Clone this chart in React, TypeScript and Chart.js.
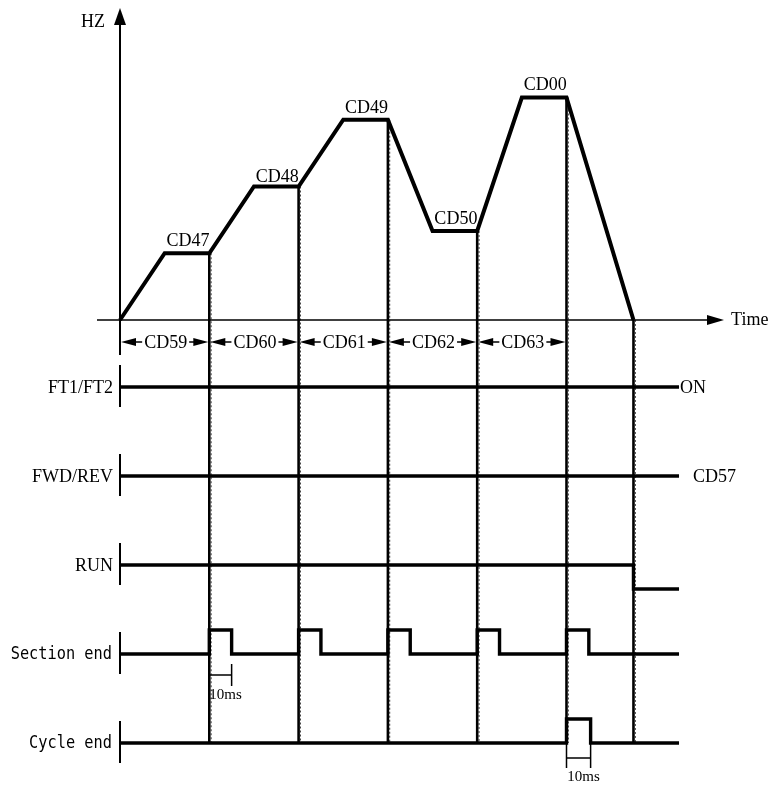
import React, { useEffect, useRef } from 'react';
import { Chart, registerables } from 'chart.js';

Chart.register(...registerables);

// ---- data ----
const profileTime = [0, 0.5, 1, 1.5, 2, 2.5, 3, 3.5, 4, 4.5, 5, 5.75];
const profileHz = [0, 15, 15, 30, 30, 45, 45, 20, 20, 50, 50, 0];
const plateauLabels = ['CD47', 'CD48', 'CD49', 'CD50', 'CD00'];
const segmentLabels = ['CD59', 'CD60', 'CD61', 'CD62', 'CD63'];
const segmentBounds = [0, 1, 2, 3, 4, 5];
const stopTime = 5.75;
const endTime = 6.26;

const signalNames = ['FT1/FT2', 'FWD/REV', 'RUN', 'Section end', 'Cycle end'];
const signalEndLabels = ['ON', 'CD57', '', '', ''];
const signalRest = [1, 1, 1, 0, 0];
const ftTimes = [0, endTime];
const ftLevels = [1, 1];
const fwdTimes = [0, endTime];
const fwdLevels = [1, 1];
const runTimes = [0, stopTime, endTime];
const runLevels = [1, 0, 0];
const sectionTimes = [0, 1, 1.25, 2, 2.25, 3, 3.25, 4, 4.25, 5, 5.25, endTime];
const sectionLevels = [0, 1, 0, 1, 0, 1, 0, 1, 0, 1, 0, 0];
const cycleTimes = [0, 5, 5.27, endTime];
const cycleLevels = [0, 1, 0, 0];
const pulseLabel = '10ms';

const SERIF = '"Liberation Serif", "Times New Roman", serif';
const MONO = '"DejaVu Sans Mono", monospace';
const PULSE = 0.27;

export default function App() {
  const ref = useRef<HTMLCanvasElement | null>(null);

  useEffect(() => {
    if (!ref.current) return;
    const sigTimes = [ftTimes, fwdTimes, runTimes, sectionTimes, cycleTimes];
    const sigLevels = [ftLevels, fwdLevels, runLevels, sectionLevels, cycleLevels];

    const signalSets = sigTimes.map((times, row) => ({
      label: signalNames[row],
      data: times.map((t, k) => ({ x: t, y: -row + (sigLevels[row][k] - signalRest[row]) * PULSE })),
      yAxisID: 'sig',
      borderColor: '#000',
      borderWidth: 3.4,
      borderJoinStyle: 'miter',
      pointRadius: 0,
      stepped: true as const,
      fill: false,
      clip: false as const,
    }));

    const hzAt = (t: number) => {
      let v = 0;
      profileTime.forEach((pt, i) => {
        if (pt === t) v = profileHz[i];
      });
      return v;
    };

    const decor = {
      id: 'decor',
      beforeDatasetsDraw(chart: any) {
        const ctx = chart.ctx;
        const X = (v: number) => chart.scales.x.getPixelForValue(v);
        const Y = (v: number) => chart.scales.y.getPixelForValue(v);
        const S = (v: number) => chart.scales.sig.getPixelForValue(v);
        ctx.save();
        ctx.strokeStyle = '#000';
        const bounds = [...segmentBounds.slice(1), stopTime];
        bounds.forEach((t) => {
          const x = X(t);
          ctx.lineWidth = 2.6;
          ctx.setLineDash([]);
          ctx.beginPath();
          ctx.moveTo(x, Y(hzAt(t)));
          ctx.lineTo(x, S(-4));
          ctx.stroke();
          ctx.lineWidth = 1;
          ctx.strokeStyle = '#333';
          ctx.setLineDash([2, 2]);
          ctx.beginPath();
          ctx.moveTo(x + 1.8, Y(hzAt(t)));
          ctx.lineTo(x + 1.8, S(-4));
          ctx.stroke();
          ctx.strokeStyle = '#000';
          ctx.setLineDash([]);
        });
        ctx.restore();
      },
      afterDatasetsDraw(chart: any) {
        const ctx = chart.ctx;
        const X = (v: number) => chart.scales.x.getPixelForValue(v);
        const Y = (v: number) => chart.scales.y.getPixelForValue(v);
        const S = (v: number) => chart.scales.sig.getPixelForValue(v);
        ctx.save();
        ctx.strokeStyle = '#000';
        ctx.fillStyle = '#000';

        const x0 = X(0);
        const y0 = Y(0);
        // y axis
        ctx.lineWidth = 2;
        ctx.beginPath();
        ctx.moveTo(x0, 22);
        ctx.lineTo(x0, y0 + 35);
        ctx.stroke();
        ctx.beginPath();
        ctx.moveTo(x0, 8);
        ctx.lineTo(x0 - 6, 25);
        ctx.lineTo(x0 + 6, 25);
        ctx.closePath();
        ctx.fill();
        // x axis
        const xTip = X(6.764);
        ctx.lineWidth = 1.6;
        ctx.beginPath();
        ctx.moveTo(x0 - 23, y0);
        ctx.lineTo(xTip - 14, y0);
        ctx.stroke();
        ctx.beginPath();
        ctx.moveTo(xTip, y0);
        ctx.lineTo(xTip - 17, y0 - 5);
        ctx.lineTo(xTip - 17, y0 + 5);
        ctx.closePath();
        ctx.fill();

        ctx.font = '18px ' + SERIF;
        ctx.textBaseline = 'middle';
        ctx.textAlign = 'left';
        ctx.fillText('Time', xTip + 7, y0);
        ctx.textAlign = 'right';
        ctx.fillText('HZ', x0 - 15, 22);

        // plateau labels
        ctx.textAlign = 'center';
        ctx.textBaseline = 'alphabetic';
        plateauLabels.forEach((lab, i) => {
          const a = profileTime[1 + 2 * i];
          const b = profileTime[2 + 2 * i];
          const v = profileHz[1 + 2 * i];
          const off = i === 1 ? 4 : 7;
          ctx.fillText(lab, (X(a) + X(b)) / 2 + 1, Y(v) - off);
        });

        // segment duration arrows
        const ry = y0 + 22;
        ctx.textBaseline = 'middle';
        segmentLabels.forEach((lab, i) => {
          const xa = X(segmentBounds[i]) + 1;
          const xb = X(segmentBounds[i + 1]) - 1;
          const cx = (xa + xb) / 2 + 1;
          const tw = ctx.measureText(lab).width;
          ctx.fillText(lab, cx, ry + 1);
          ctx.lineWidth = 1.5;
          ctx.beginPath();
          ctx.moveTo(xa + 10, ry);
          ctx.lineTo(cx - tw / 2 - 2, ry);
          ctx.moveTo(cx + tw / 2 + 2, ry);
          ctx.lineTo(xb - 10, ry);
          ctx.stroke();
          ctx.beginPath();
          ctx.moveTo(xa, ry);
          ctx.lineTo(xa + 15, ry - 4);
          ctx.lineTo(xa + 15, ry + 4);
          ctx.closePath();
          ctx.fill();
          ctx.beginPath();
          ctx.moveTo(xb, ry);
          ctx.lineTo(xb - 15, ry - 4);
          ctx.lineTo(xb - 15, ry + 4);
          ctx.closePath();
          ctx.fill();
        });

        // signal rows: start ticks, names, end labels
        signalNames.forEach((name, row) => {
          const y = S(-row);
          ctx.lineWidth = 2;
          ctx.beginPath();
          ctx.moveTo(x0, y - 22);
          ctx.lineTo(x0, y + 20);
          ctx.stroke();
          ctx.textBaseline = 'middle';
          if (row < 3) {
            ctx.font = '18px ' + SERIF;
            ctx.textAlign = 'right';
            ctx.fillText(name, x0 - 7, y + 1);
          } else {
            ctx.save();
            ctx.font = '17px ' + MONO;
            ctx.textAlign = 'right';
            ctx.translate(x0 - 8, y);
            ctx.scale(0.9, 1.05);
            ctx.fillText(name, 0, 0);
            ctx.restore();
          }
          if (signalEndLabels[row]) {
            ctx.font = '18px ' + SERIF;
            ctx.textAlign = 'left';
            const xe = X(endTime);
            ctx.fillText(signalEndLabels[row], xe + (row === 0 ? 1 : 14), y + 1);
          }
        });

        // 10ms markers
        ctx.lineWidth = 1.5;
        ctx.font = '15px ' + SERIF;
        ctx.textAlign = 'center';
        ctx.textBaseline = 'middle';
        {
          const ya = S(-3);
          const a = X(sectionTimes[1]);
          const b = X(sectionTimes[2]);
          ctx.beginPath();
          ctx.moveTo(a, ya + 21);
          ctx.lineTo(b, ya + 21);
          ctx.moveTo(b, ya + 10);
          ctx.lineTo(b, ya + 32);
          ctx.stroke();
          ctx.fillText(pulseLabel, (a + b) / 2 + 5, ya + 41);
        }
        {
          const ya = S(-4);
          const a = X(cycleTimes[1]);
          const b = X(cycleTimes[2]);
          ctx.beginPath();
          ctx.moveTo(a, ya);
          ctx.lineTo(a, ya + 25);
          ctx.moveTo(b, ya);
          ctx.lineTo(b, ya + 25);
          ctx.moveTo(a, ya + 15);
          ctx.lineTo(b, ya + 15);
          ctx.stroke();
          ctx.fillText(pulseLabel, (a + b) / 2 + 5, ya + 34);
        }
        ctx.restore();
      },
    };

    const chart = new Chart(ref.current, {
      type: 'line',
      data: {
        datasets: [
          {
            label: 'HZ',
            data: profileTime.map((t, i) => ({ x: t, y: profileHz[i] })),
            yAxisID: 'y',
            borderColor: '#000',
            borderWidth: 4,
            borderJoinStyle: 'miter',
            pointRadius: 0,
            fill: false,
            tension: 0,
            clip: false,
          },
          ...signalSets,
        ] as any,
      },
      options: {
        animation: false,
        responsive: false,
        layout: { padding: 0 },
        plugins: { legend: { display: false }, tooltip: { enabled: false } },
        scales: {
          x: { type: 'linear', display: false, min: -1.3438, max: 7.3236 },
          y: { type: 'linear', display: false, min: -105.62, max: 71.91 },
          sig: { type: 'linear', display: false, min: -4.528, max: 4.348 },
        },
      },
      plugins: [decor],
    });
    return () => chart.destroy();
  }, []);

  return (
    <div style={{ position: 'absolute', left: 0, top: 0, width: 774, height: 790, background: '#fff' }}>
      <canvas ref={ref} width={774} height={790} />
    </div>
  );
}
